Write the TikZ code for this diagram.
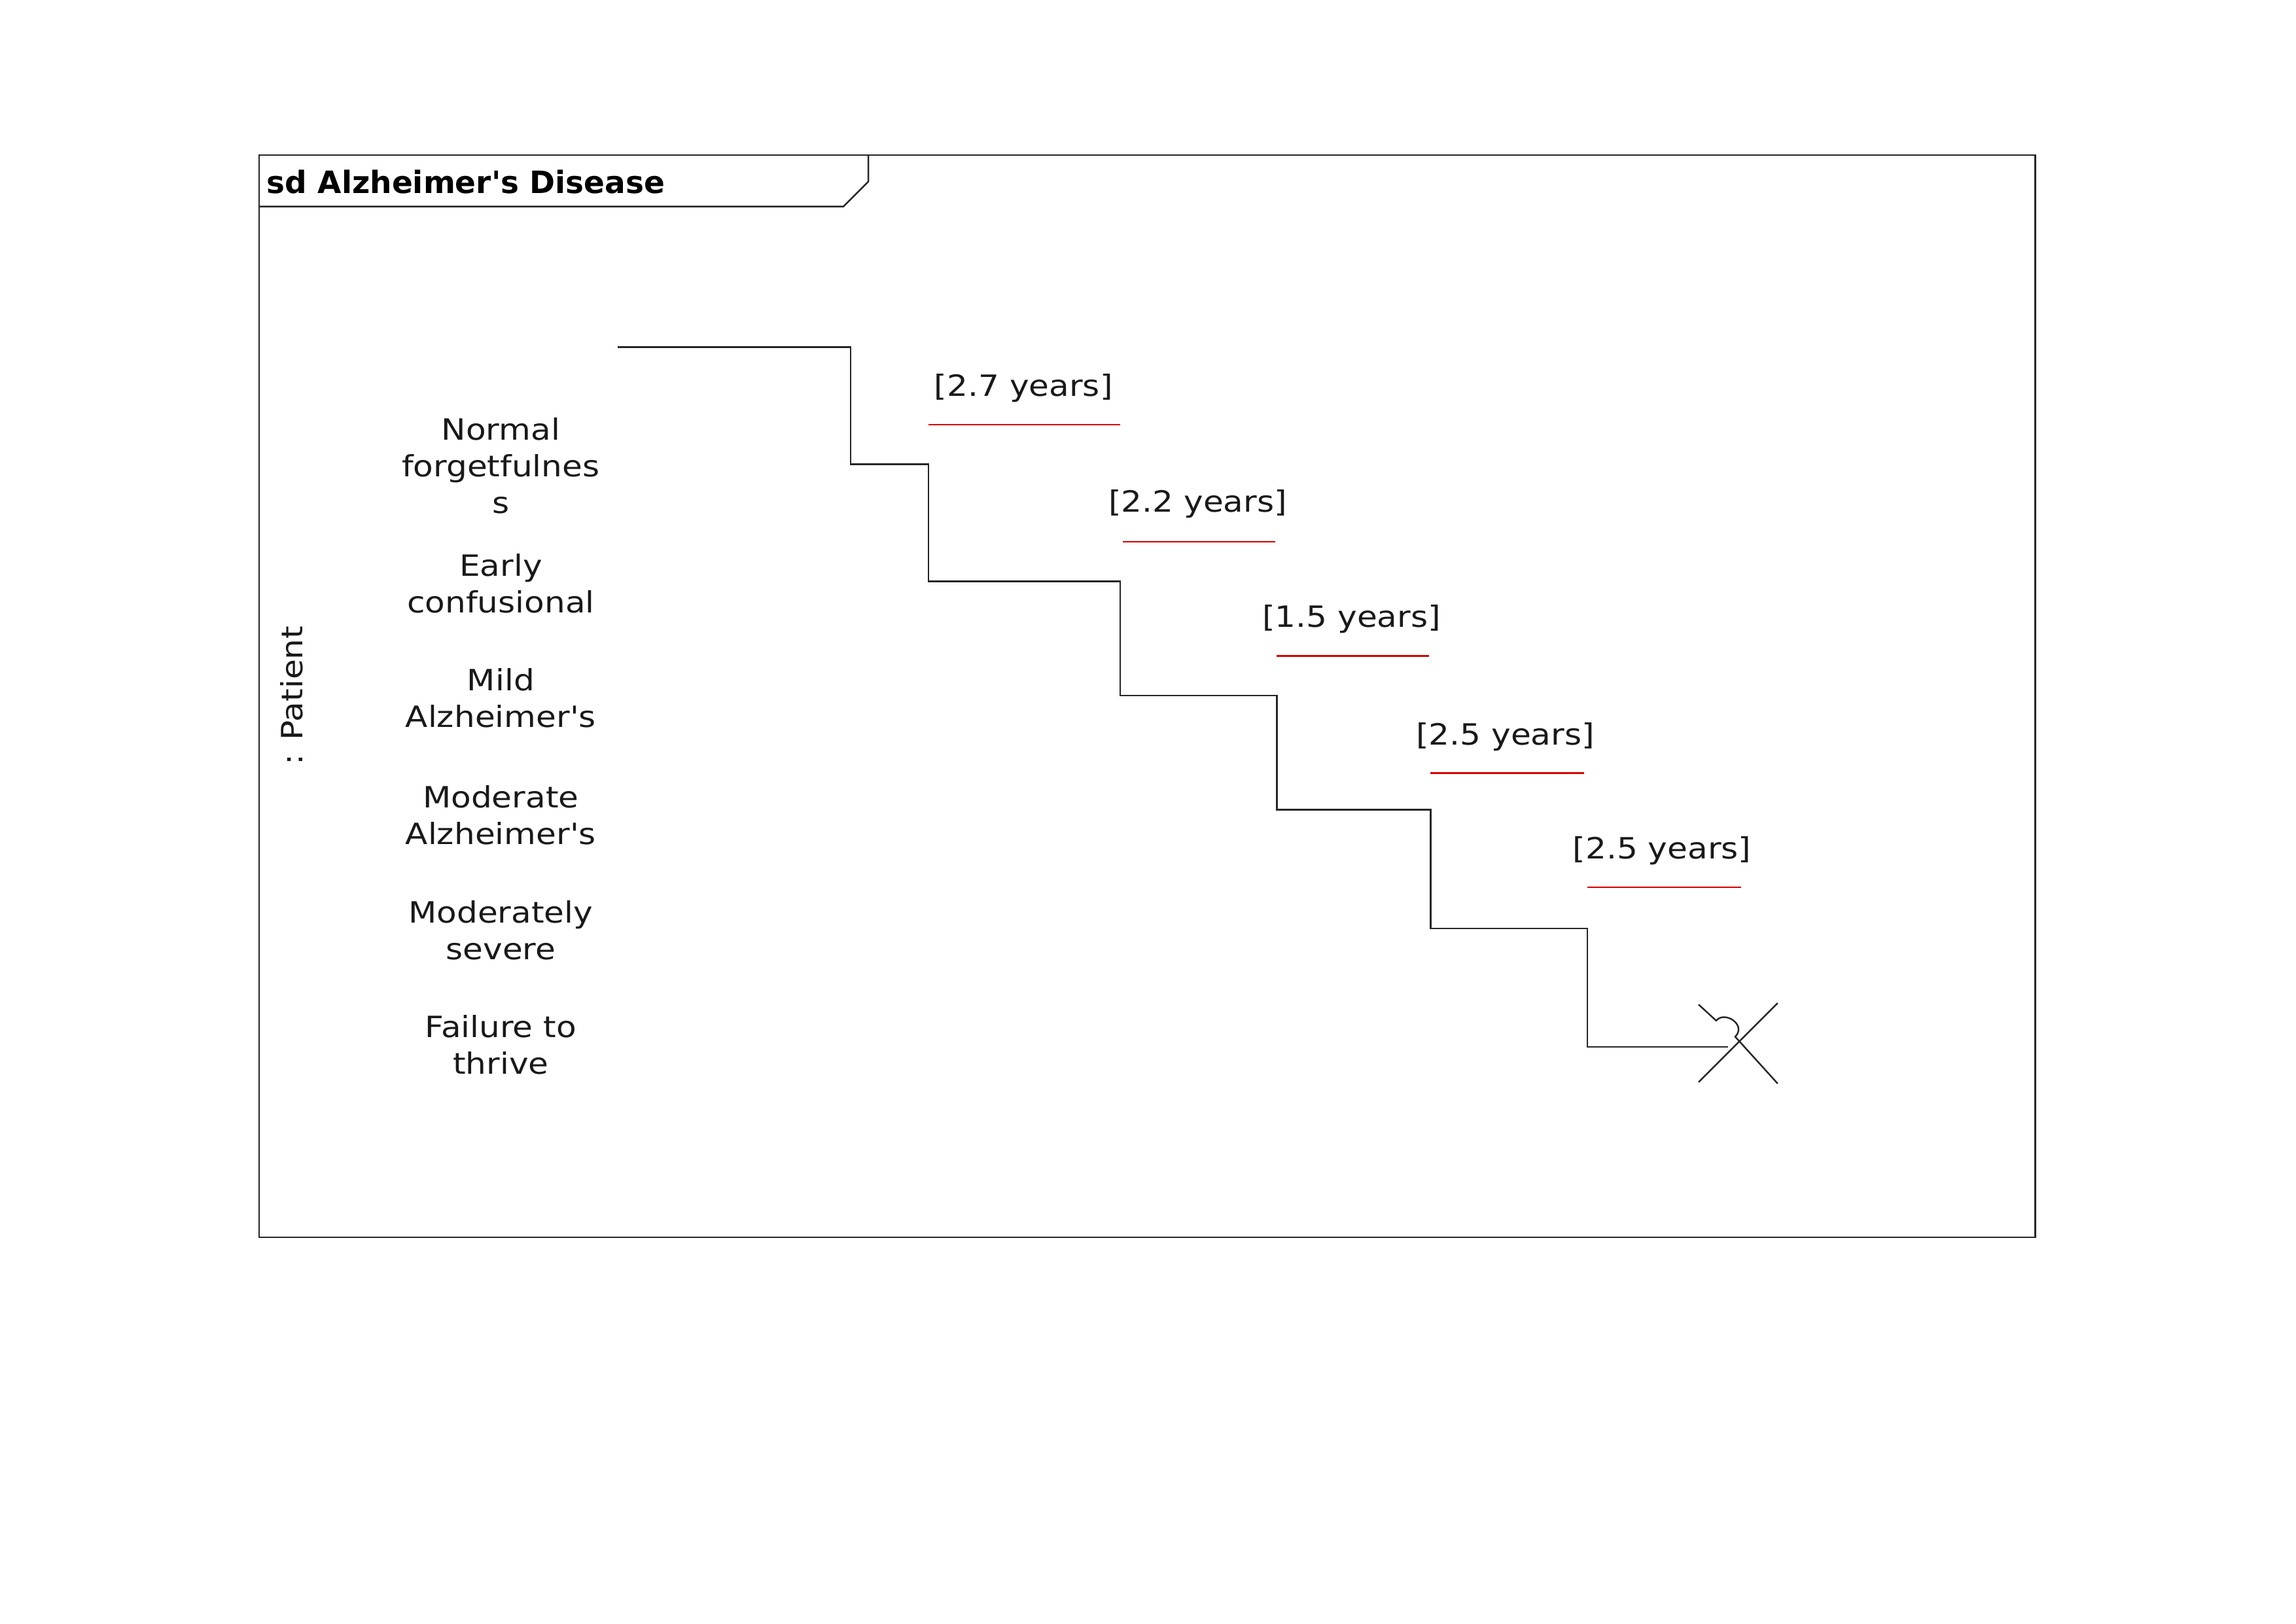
\documentclass[tikz,border=0pt]{standalone}
\usepackage{fontspec}
\setmainfont{DejaVu Sans}
\newfontfamily\widefont[FakeStretch=1.12]{DejaVu Sans}
\newfontfamily\titlefont{DejaVu Sans}
\begin{document}
\begin{tikzpicture}[x=1pt,y=-1pt,
  ln/.style={draw=black!85,line width=1.1pt},
  lbl/.style={font=\widefont\fontsize{20}{25}\selectfont,align=center,text=black!90,inner sep=0pt},
  red/.style={draw=red!85!black,line width=1.1pt}]
\useasboundingbox (0,0) rectangle (1568,1109);
\draw[ln] (177,106) rectangle (1390,845);
\draw[ln] (177,141) -- (576,141) -- (593,124) -- (593,106);
\node[anchor=west,font=\titlefont\bfseries\fontsize{21}{25}\selectfont,inner sep=0pt] (title) at (182,124) {sd Alzheimer's Disease};
\node[lbl,rotate=90] (pat) at (199,475) {: Patient};
\node[lbl] (s1) at (342,318) {Normal\\forgetfulnes\\s};
\node[lbl] (s2) at (342,398.5) {Early\\confusional};
\node[lbl] (s3) at (342,476.5) {Mild\\Alzheimer's};
\node[lbl] (s4) at (342,556.5) {Moderate\\Alzheimer's};
\node[lbl] (s5) at (342,635.5) {Moderately\\severe};
\node[lbl] (s6) at (342,713.5) {Failure to\\thrive};
\coordinate (st) at (422,237);
\coordinate (en) at (1180,715);
\draw[ln] (st) -- (581,237) -- (581,317) -- (634,317) -- (634,397) -- (765,397) -- (765,475) -- (872,475) -- (872,553) -- (977,553) -- (977,634) -- (1084,634) -- (1084,715) -- (en);
\node[lbl] (d1) at (699,265) {[2.7 years]};
\draw[red] (634,290) -- (765,290);
\node[lbl] (d2) at (818,344) {[2.2 years]};
\draw[red] (767,370) -- (871,370);
\node[lbl] (d3) at (923,423) {[1.5 years]};
\draw[red] (872,448) -- (976,448);
\node[lbl] (d4) at (1028,503) {[2.5 years]};
\draw[red] (977,528) -- (1082,528);
\node[lbl] (d5) at (1135,581) {[2.5 years]};
\draw[red] (1084,606) -- (1189,606);
\draw[ln] (1160,739) -- (1214,685);
\draw[ln] (1160,686) -- (1172,697) .. controls (1178,690) and (1193,700) .. (1185,708) -- (1214,740);
\end{tikzpicture}
\end{document}
